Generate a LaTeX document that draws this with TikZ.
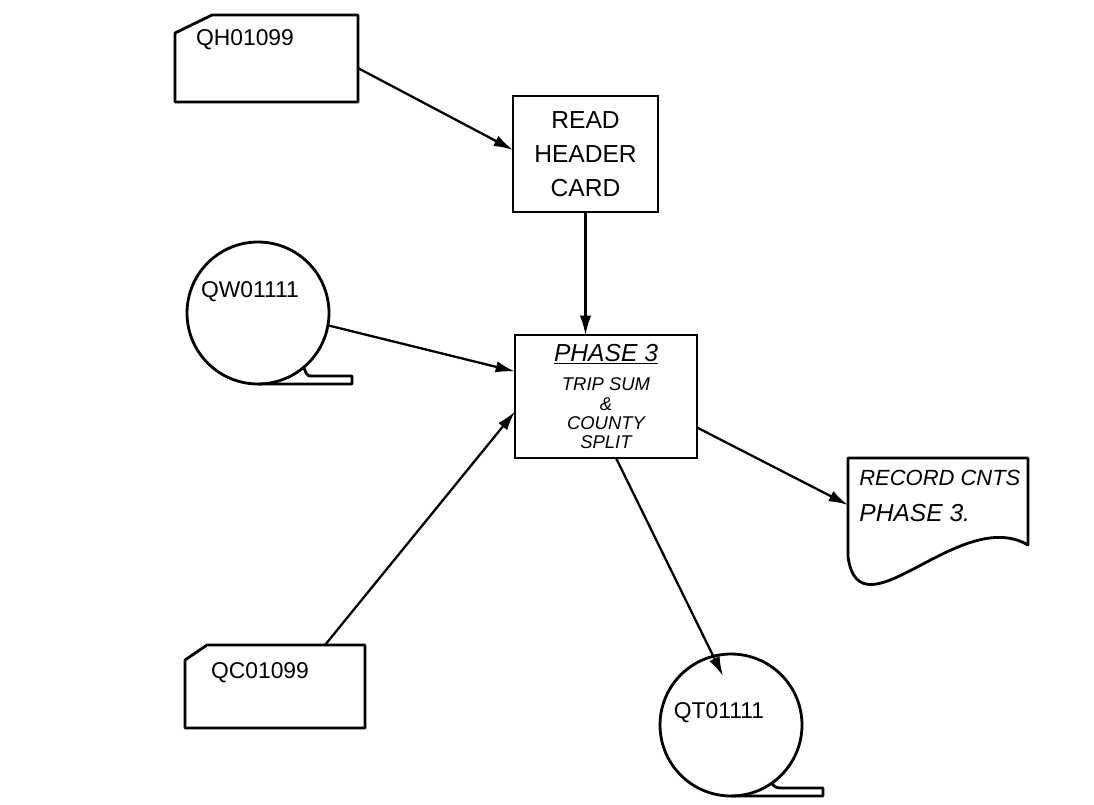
\documentclass[tikz,border=0pt]{standalone}
\usepackage{fontspec}
\setmainfont{Liberation Sans}
\usetikzlibrary{arrows.meta,calc}
\begin{document}
\begin{tikzpicture}[x=0.02cm,y=-0.02cm,
  outline/.style={line width=1.6pt, line join=round},
  flow/.style={line width=1.3pt,-{Latex[length=11pt,width=6.5pt]}},
  frame/.style={rectangle, inner sep=0pt, outer sep=0pt},
  procbox/.style={rectangle, draw, line width=1.6pt, inner sep=0pt, outer sep=0pt, align=center},
  tape/.style={circle, draw, line width=1.6pt, inner sep=0pt, outer sep=0pt},
  txt/.style={inner sep=0pt, font=\fontsize{13}{18}\selectfont},
]
\useasboundingbox (0,0) rectangle (1094,804);
\fill[white] (0,0) rectangle (1094,804);

% QH01099 card
\node[frame, minimum width=3.66cm, minimum height=1.74cm] (qh) at (266.5,58.5) {};
\draw[outline] (qh.south west) -- (qh.south east) -- (qh.north east) -- ($(qh.north west)+(37,0)$) -- ($(qh.north west)+(0,18)$) -- cycle;
\node[txt] (qhl) at (245,40) {QH01099};

% READ HEADER CARD
\node[procbox, minimum width=2.9cm, minimum height=2.32cm, font=\fontsize{14}{19.3}\selectfont] (read) at (585.5,154) {READ\\HEADER\\CARD};

% PHASE 3 box
\node[procbox, minimum width=3.64cm, minimum height=2.46cm, font=\itshape\fontsize{10.5}{11}\selectfont] (phase) at (606,396.5)
  {\fontsize{14}{14}\selectfont\underline{PHASE 3}\\[6pt]
   \fontsize{10.5}{11}\selectfont TRIP SUM\\ \&\\ COUNTY\\ SPLIT};

% QW01111 tape
\node[tape, minimum size=2.84cm] (qw) at (258,313) {};
\draw[outline] (qw.south) -- ++(94,0) -- ++(0,-8) -- ++(-40,0) .. controls +(-7,0) and +(3,5) .. (qw.-50);
\node[txt] (qwl) at (250,292) {QW01111};

% QC01099 card
\node[frame, minimum width=3.6cm, minimum height=1.66cm] (qc) at (275,686.5) {};
\draw[outline] (qc.south west) -- (qc.south east) -- (qc.north east) -- ($(qc.north west)+(22,0)$) -- ($(qc.north west)+(0,15)$) -- cycle;
\node[txt] (qcl) at (260,673) {QC01099};

% QT01111 tape
\node[tape, minimum size=2.84cm] (qt) at (731,725) {};
\draw[outline] (qt.south) -- ++(92,0) -- ++(0,-8) -- ++(-41,0) .. controls +(-6,0) and +(3,4) .. (qt.-55);
\node[txt] (qtl) at (719,713) {QT01111};

% RECORD CNTS document
\node[frame, minimum width=3.6cm, minimum height=1.98cm] (rec) at (938,507.5) {};
\draw[outline] (rec.south west) -- (rec.north west) -- (rec.north east) -- ($(rec.south east)+(0,-12)$)
  .. controls (960,505) and (860,640) .. (rec.south west);
\node[txt, align=left, anchor=west, font=\itshape\fontsize{12.5}{20}\selectfont] (recl) at (859,496) {RECORD CNTS\\{\fontsize{14}{20}\selectfont PHASE 3.}};

% connectors
\draw[flow] ($(qh.north east)!0.61!(qh.south east)$) -- ($(read.west)+(0,-4)$);
\draw[flow] (read.south) -- (read.south |- phase.north);
\draw[flow] (qw.-10) -- ($(phase.west)+(0,-25)$);
\draw[flow] ($(qc.north)+(50,0)$) -- ($(phase.west)+(0,15)$);
\draw[flow] ($(phase.east)+(0,31)$) -- ($(rec.west)+(0,-2.5)$);
\draw[flow] ($(phase.south)+(10,0)$) -- ($(qt.north)+(-8,22)$);
\end{tikzpicture}
\end{document}
